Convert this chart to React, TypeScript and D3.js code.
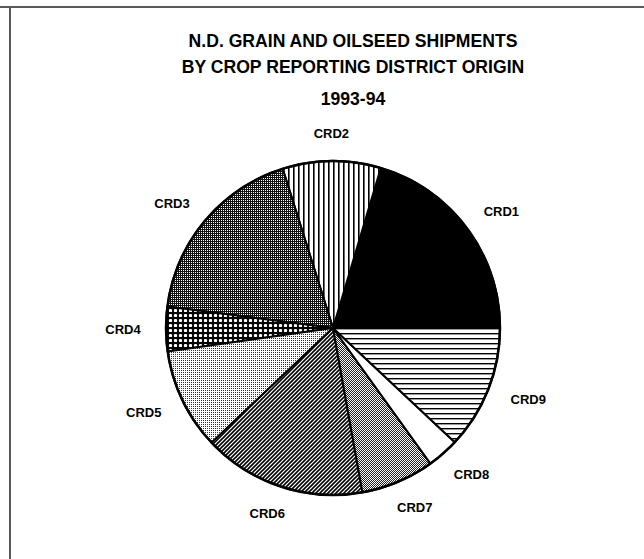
import React, { useEffect, useRef } from 'react';
import * as d3 from 'd3';

// crop reporting districts, in the order the pie lays them out (counter clockwise from 3 o'clock)
const districts = ['CRD1', 'CRD2', 'CRD3', 'CRD4', 'CRD5', 'CRD6', 'CRD7', 'CRD8', 'CRD9'];
// share of shipments, percent
const shares = [20.4, 9.5, 18.1, 4.3, 9.8, 15.8, 7.1, 3.1, 12.0];
const titleLines = ['N.D. GRAIN AND OILSEED SHIPMENTS', 'BY CROP REPORTING DISTRICT ORIGIN', '1993-94'];

export default function App() {
  const svgRef = useRef<SVGSVGElement>(null);

  useEffect(() => {
    const w = 644;
    const h = 559;
    const svg = d3.select(svgRef.current).attr('width', w).attr('height', h);
    svg.selectAll('*').remove();

    // bitmap-ish fills like the old printout
    const defs = svg.append('defs');
    const pat = (id: string, pw: number, ph: number, bg: string) => {
      const p = defs.append('pattern')
        .attr('id', id)
        .attr('patternUnits', 'userSpaceOnUse')
        .attr('width', pw)
        .attr('height', ph);
      p.append('rect').attr('width', pw).attr('height', ph).attr('fill', bg);
      return p;
    };
    // CRD2 vertical lines
    pat('p-vert', 5, 5, '#fff').append('rect').attr('width', 1.6).attr('height', 5).attr('fill', '#000');
    // CRD3 dark stipple
    const dark = pat('p-dark', 2, 2, '#111');
    dark.append('rect').attr('width', 1).attr('height', 1).attr('fill', '#fff');
    // CRD4 honeycomb
    const honey = pat('p-honey', 5, 5, '#000');
    honey.append('rect').attr('x', 0.9).attr('y', 0.9).attr('width', 3.2).attr('height', 3.2)
      .attr('rx', 1.2).attr('fill', '#fff');
    // CRD5 light stipple
    pat('p-light', 2, 2, '#fff').append('rect').attr('width', 1).attr('height', 1).attr('fill', '#333');
    // CRD6 diagonal hatch
    const hatch = pat('p-hatch', 4, 4, '#fff');
    hatch.append('path').attr('d', 'M-1,1 L1,-1 M0,4 L4,0 M3,5 L5,3')
      .attr('stroke', '#000').attr('stroke-width', 1.6);
    // CRD7 medium stipple
    const med = pat('p-med', 2, 2, '#fff');
    med.append('rect').attr('width', 1).attr('height', 1).attr('fill', '#222');
    med.append('rect').attr('x', 1).attr('y', 1).attr('width', 1).attr('height', 1).attr('fill', '#222');
    // CRD9 horizontal lines
    pat('p-horiz', 5, 5, '#fff').append('rect').attr('width', 5).attr('height', 1.4).attr('fill', '#000');

    const fills = ['#000', 'url(#p-vert)', 'url(#p-dark)', 'url(#p-honey)', 'url(#p-light)',
      'url(#p-hatch)', 'url(#p-med)', '#fff', 'url(#p-horiz)'];

    // frame left over from the scan
    svg.append('line').attr('x1', 0).attr('x2', w).attr('y1', 7).attr('y2', 7)
      .attr('stroke', '#222').attr('stroke-width', 1.5);
    svg.append('line').attr('x1', 10).attr('x2', 10).attr('y1', 8).attr('y2', h)
      .attr('stroke', '#222').attr('stroke-width', 1.5);

    // title
    svg.append('g')
      .selectAll('text')
      .data(titleLines)
      .join('text')
      .attr('x', 353)
      .attr('y', (d, i) => [47, 73, 105][i])
      .attr('text-anchor', 'middle')
      .attr('font-family', 'Liberation Sans, Arial, sans-serif')
      .attr('font-weight', 'bold')
      .attr('font-size', 17.6)
      .text(d => d);

    // pie
    const cx = 333;
    const cy = 328;
    const r = 167;
    const data = districts.map((name, i) => ({ name, value: shares[i], fill: fills[i] }));
    const pie = d3.pie<any>()
      .value(d => d.value)
      .sort(null)
      .startAngle(Math.PI / 2)
      .endAngle(Math.PI / 2 - 2 * Math.PI); // goes counter clockwise
    const arcs = pie(data);
    const arc = d3.arc<any>().innerRadius(0).outerRadius(r);

    const g = svg.append('g').attr('transform', `translate(${cx},${cy})`);
    g.selectAll('path.slice')
      .data(arcs)
      .join('path')
      .attr('class', 'slice')
      .attr('d', arc)
      .attr('fill', d => d.data.fill)
      .attr('stroke', '#000')
      .attr('stroke-width', 2)
      .attr('stroke-linejoin', 'round');
    g.append('circle').attr('r', r).attr('fill', 'none').attr('stroke', '#000').attr('stroke-width', 2.5);

    // labels sit on an oval around the pie, a bit wider than tall
    const lrx = 210;
    const lry = 195;
    const mid = (d: any) => (d.startAngle + d.endAngle) / 2;
    g.selectAll('text')
      .data(arcs)
      .join('text')
      .attr('x', d => lrx * Math.sin(mid(d)))
      .attr('y', d => -lry * Math.cos(mid(d)))
      .attr('text-anchor', 'middle')
      .attr('dy', '0.36em')
      .attr('font-family', 'Liberation Sans, Arial, sans-serif')
      .attr('font-weight', 'bold')
      .attr('font-size', 13)
      .text(d => d.data.name);
  }, []);

  return (
    <svg ref={svgRef} style={{ position: 'absolute', left: 0, top: 0, background: '#fff' }}></svg>
  );
}
